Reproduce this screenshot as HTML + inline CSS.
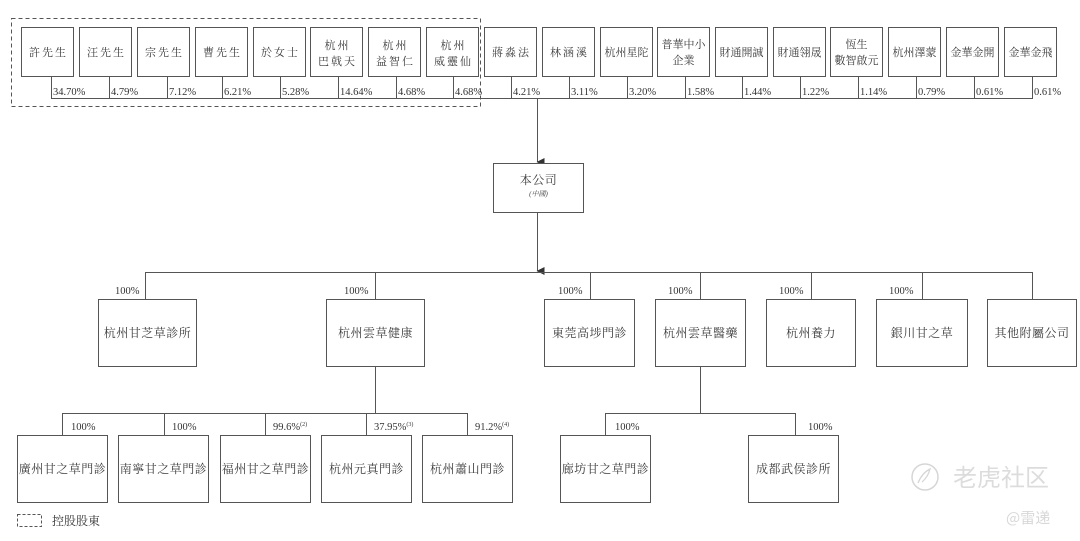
<!DOCTYPE html>
<html><head><meta charset="utf-8"><style>
html,body{margin:0;padding:0;background:#fff;}
svg{display:block;}
.b{fill:#fff;stroke:#555;stroke-width:1;}
.l{stroke:#555;stroke-width:1;fill:none;}
.t{font-family:"Liberation Serif","Noto Serif CJK SC",serif;font-size:12px;fill:#3a3a3a;text-anchor:middle;letter-spacing:0.5px;}
.s{font-family:"Liberation Serif","Noto Serif CJK SC",serif;font-size:11px;fill:#3a3a3a;text-anchor:middle;}
.s3{letter-spacing:2px;}
.p{font-family:"Liberation Serif","Noto Serif CJK SC",serif;font-size:10.5px;fill:#333;}
</style></head><body>
<svg width="1080" height="541" viewBox="0 0 1080 541" xmlns="http://www.w3.org/2000/svg">
<defs><marker id="a" markerWidth="8" markerHeight="8" refX="4" refY="7" orient="auto" markerUnits="userSpaceOnUse"><path d="M0,0 L8,0 L4,8 z" fill="#333"/></marker></defs>
<rect x="11.5" y="18.5" width="469" height="88" fill="none" stroke="#555" stroke-dasharray="4,3"/>
<g>
<rect class="b" x="21.5" y="27.5" width="52" height="49"/><text class="s s3" x="48.5" y="56">許先生</text>
<rect class="b" x="79.5" y="27.5" width="52" height="49"/><text class="s s3" x="106.5" y="56">汪先生</text>
<rect class="b" x="137.5" y="27.5" width="52" height="49"/><text class="s s3" x="164.5" y="56">宗先生</text>
<rect class="b" x="195.5" y="27.5" width="52" height="49"/><text class="s s3" x="222.5" y="56">曹先生</text>
<rect class="b" x="253.5" y="27.5" width="52" height="49"/><text class="s s3" x="280.5" y="56">於女士</text>
<rect class="b" x="310.5" y="27.5" width="52" height="49"/><text class="s s3" x="337.5" y="49">杭州</text><text class="s s3" x="337.5" y="65">巴戟天</text>
<rect class="b" x="368.5" y="27.5" width="52" height="49"/><text class="s s3" x="395.5" y="49">杭州</text><text class="s s3" x="395.5" y="65">益智仁</text>
<rect class="b" x="426.5" y="27.5" width="52" height="49"/><text class="s s3" x="453.5" y="49">杭州</text><text class="s s3" x="453.5" y="65">威靈仙</text>
<rect class="b" x="484.5" y="27.5" width="52" height="49"/><text class="s s3" x="511.5" y="56">蔣淼法</text>
<rect class="b" x="542.5" y="27.5" width="52" height="49"/><text class="s s3" x="569.5" y="56">林涵溪</text>
<rect class="b" x="600.5" y="27.5" width="52" height="49"/><text class="s" x="626.5" y="56">杭州星陀</text>
<rect class="b" x="657.5" y="27.5" width="52" height="49"/><text class="s" x="683.5" y="48">普華中小</text><text class="s" x="683.5" y="64">企業</text>
<rect class="b" x="715.5" y="27.5" width="52" height="49"/><text class="s" x="741.5" y="56">財通開誠</text>
<rect class="b" x="773.5" y="27.5" width="52" height="49"/><text class="s" x="799.5" y="56">財通翎晟</text>
<rect class="b" x="830.5" y="27.5" width="52" height="49"/><text class="s" x="856.5" y="48">恆生</text><text class="s" x="856.5" y="64">數智啟元</text>
<rect class="b" x="888.5" y="27.5" width="52" height="49"/><text class="s" x="914.5" y="56">杭州澤蒙</text>
<rect class="b" x="946.5" y="27.5" width="52" height="49"/><text class="s" x="972.5" y="56">金華金開</text>
<rect class="b" x="1004.5" y="27.5" width="52" height="49"/><text class="s" x="1030.5" y="56">金華金飛</text>
</g>
<path class="l" d="M51.5,77 V98.5 M109.5,77 V98.5 M167.5,77 V98.5 M222.5,77 V98.5 M280.5,77 V98.5 M338.5,77 V98.5 M396.5,77 V98.5 M453.5,77 V98.5 M511.5,77 V98.5 M569.5,77 V98.5 M627.5,77 V98.5 M685.5,77 V98.5 M742.5,77 V98.5 M800.5,77 V98.5 M858.5,77 V98.5 M916.5,77 V98.5 M974.5,77 V98.5 M1032.5,77 V98.5 M51,98.5 H1033"/>
<g class="p">
<text x="53" y="95">34.70%</text><text x="111" y="95">4.79%</text><text x="169" y="95">7.12%</text><text x="224" y="95">6.21%</text><text x="282" y="95">5.28%</text><text x="340" y="95">14.64%</text><text x="398" y="95">4.68%</text><text x="455" y="95">4.68%</text>
<text x="513" y="95">4.21%</text><text x="571" y="95">3.11%</text><text x="629" y="95">3.20%</text><text x="687" y="95">1.58%</text><text x="744" y="95">1.44%</text><text x="802" y="95">1.22%</text><text x="860" y="95">1.14%</text><text x="918" y="95">0.79%</text><text x="976" y="95">0.61%</text><text x="1034" y="95">0.61%</text>
</g>
<line class="l" x1="537.5" y1="98.5" x2="537.5" y2="162" marker-end="url(#a)"/>
<rect class="b" x="493.5" y="163.5" width="90" height="49"/>
<text class="t" x="538.5" y="184">本公司</text>
<text x="538.5" y="196" style="font-family:'Liberation Serif','Noto Serif CJK SC',serif;font-size:7px;font-style:italic;fill:#444;text-anchor:middle">(中國)</text>
<line class="l" x1="537.5" y1="212.5" x2="537.5" y2="271" marker-end="url(#a)"/>
<path class="l" d="M145.5,272.5 H1032.5 M145.5,272 V299 M375.5,272 V299 M590.5,272 V299 M700.5,272 V299 M811.5,272 V299 M922.5,272 V299 M1032.5,272 V299"/>
<g class="p">
<text x="115" y="294">100%</text><text x="344" y="294">100%</text><text x="558" y="294">100%</text><text x="668" y="294">100%</text><text x="779" y="294">100%</text><text x="889" y="294">100%</text>
</g>
<rect class="b" x="98.5" y="299.5" width="98" height="67"/><text class="t" x="147.5" y="337">杭州甘芝草診所</text>
<rect class="b" x="326.5" y="299.5" width="98" height="67"/><text class="t" x="375.5" y="337">杭州雲草健康</text>
<rect class="b" x="544.5" y="299.5" width="90" height="67"/><text class="t" x="589.5" y="337">東莞高埗門診</text>
<rect class="b" x="655.5" y="299.5" width="90" height="67"/><text class="t" x="700.5" y="337">杭州雲草醫藥</text>
<rect class="b" x="766.5" y="299.5" width="89" height="67"/><text class="t" x="811" y="337">杭州養力</text>
<rect class="b" x="876.5" y="299.5" width="91" height="67"/><text class="t" x="922" y="337">銀川甘之草</text>
<rect class="b" x="987.5" y="299.5" width="89" height="67"/><text class="t" x="1032" y="337">其他附屬公司</text>
<path class="l" d="M375.5,367 V413.5 M62.5,413.5 H467.5 M62.5,413 V435 M164.5,413 V435 M265.5,413 V435 M366.5,413 V435 M467.5,413 V435"/>
<g class="p">
<text x="71" y="430">100%</text><text x="172" y="430">100%</text><text x="273" y="430">99.6%<tspan font-size="6" dy="-4">(2)</tspan></text><text x="374" y="430">37.95%<tspan font-size="6" dy="-4">(3)</tspan></text><text x="475" y="430">91.2%<tspan font-size="6" dy="-4">(4)</tspan></text>
</g>
<rect class="b" x="17.5" y="435.5" width="90" height="67"/><text class="t" x="62.5" y="473">廣州甘之草門診</text>
<rect class="b" x="118.5" y="435.5" width="90" height="67"/><text class="t" x="163.5" y="473">南寧甘之草門診</text>
<rect class="b" x="220.5" y="435.5" width="90" height="67"/><text class="t" x="265.5" y="473">福州甘之草門診</text>
<rect class="b" x="321.5" y="435.5" width="90" height="67"/><text class="t" x="366.5" y="473">杭州元真門診</text>
<rect class="b" x="422.5" y="435.5" width="90" height="67"/><text class="t" x="467.5" y="473">杭州蕭山門診</text>
<path class="l" d="M700.5,367 V413.5 M605.5,413.5 H795.5 M605.5,413 V435 M795.5,413 V435"/>
<g class="p"><text x="615" y="430">100%</text><text x="808" y="430">100%</text></g>
<rect class="b" x="560.5" y="435.5" width="90" height="67"/><text class="t" x="605.5" y="473">廊坊甘之草門診</text>
<rect class="b" x="748.5" y="435.5" width="90" height="67"/><text class="t" x="793.5" y="473">成都武侯診所</text>
<rect x="17.5" y="514.5" width="24" height="12" fill="none" stroke="#555" stroke-dasharray="3,2"/>
<text x="52" y="525" style="font-family:'Liberation Serif','Noto Serif CJK SC',serif;font-size:12px;fill:#333">控股股東</text>
<circle cx="925" cy="477" r="13" fill="none" stroke="#d6d6d6" stroke-width="1.5"/>
<path d="M918,483 q4,-10 12,-14 q-2,8 -8,13" fill="none" stroke="#d6d6d6" stroke-width="1.3"/>
<text x="953" y="486" style="font-family:'Noto Sans CJK SC',sans-serif;font-size:24px;fill:#dcdcdc;">老虎社区</text>
<text x="1006" y="523" style="font-family:'Noto Sans CJK SC',sans-serif;font-size:15px;fill:#d8d8d8">@雷递</text>
</svg>
</body></html>
